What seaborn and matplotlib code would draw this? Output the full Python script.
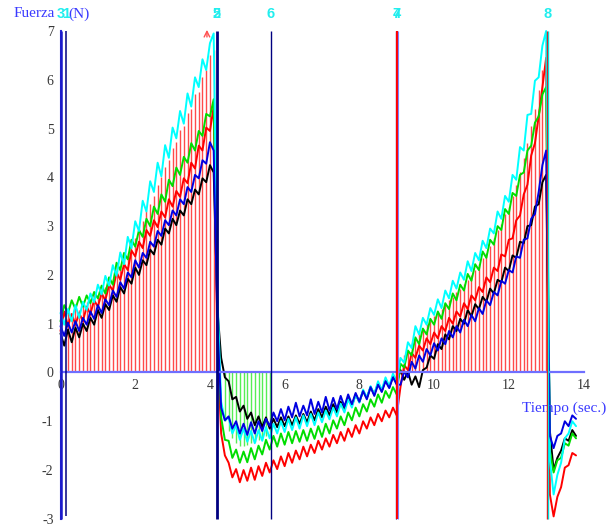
import numpy as np
import pandas as pd
import matplotlib
matplotlib.use("Agg")
import matplotlib.pyplot as plt
import seaborn as sns

# ---------------- data ----------------
t = np.round(np.arange(0, 13.85, 0.1), 1)   # sampling times 0.0 .. 13.8 s

cyan_vals = (
    [1.22, 0.98, 1.30, 1.05, 1.38, 1.12, 1.45, 1.28, 1.62, 1.44, 1.80, 1.60, 1.98, 1.78,
     2.20, 1.98, 2.46, 2.22, 2.78, 2.55, 3.10, 2.90, 3.52, 3.30, 3.92, 3.70, 4.30, 4.02,
     4.66, 4.40, 5.02, 4.80, 5.36, 5.10, 5.72, 5.45, 6.05, 5.85, 6.42, 6.20, 6.75, 6.95]
    + [1.6]
    + [-0.60, -0.98, -0.92, -1.25, -1.08, -1.38, -1.15, -1.42, -1.20, -1.45, -1.18, -1.40,
       -1.12, -1.35, -1.05, -1.25, -1.00, -1.22, -0.95, -1.18, -0.92, -1.15, -0.88, -1.10,
       -0.85, -1.08, -0.82, -1.02, -0.78, -0.96, -0.72, -0.90, -0.64, -0.82, -0.55, -0.72,
       -0.45, -0.62, -0.35, -0.52, -0.28, -0.45, -0.18, -0.36, -0.10, -0.28, -0.02, -0.18]
    + [0.30, 0.20, 0.62, 0.50, 0.95, 0.78, 1.12, 0.98, 1.32, 1.18, 1.50, 1.32, 1.68, 1.52,
       1.88, 1.72, 2.05, 1.90, 2.28, 2.08, 2.45, 2.30, 2.70, 2.55, 2.95, 2.85, 3.30, 3.15,
       3.62, 3.50, 4.05, 3.95, 4.62, 4.55, 5.28, 5.30, 5.98, 6.05, 6.70, 7.00]
    + [-1.8, -2.5, -2.1, -1.85, -1.35, -1.25, -1.0, -1.1]
)

green_vals = (
    [1.05, 1.38, 1.22, 1.48, 1.30, 1.55, 1.35, 1.58, 1.42, 1.65, 1.52, 1.78, 1.62, 1.95,
     1.80, 2.25, 2.10, 2.45, 2.32, 2.72, 2.58, 2.92, 2.78, 3.15, 3.00, 3.40, 3.25, 3.65,
     3.50, 3.95, 3.82, 4.20, 4.05, 4.42, 4.30, 4.70, 4.55, 4.95, 4.85, 5.30, 5.25, 5.60]
    + [1.2]
    + [-0.92, -1.38, -1.40, -1.75, -1.58, -1.85, -1.62, -1.84, -1.55, -1.78, -1.50, -1.68,
       -1.38, -1.58, -1.30, -1.52, -1.25, -1.48, -1.22, -1.45, -1.20, -1.42, -1.18, -1.40,
       -1.15, -1.36, -1.10, -1.32, -1.05, -1.25, -0.98, -1.15, -0.90, -1.08, -0.82, -0.98,
       -0.72, -0.90, -0.65, -0.80, -0.55, -0.70, -0.45, -0.62, -0.38, -0.52, -0.30, -0.45]
    + [0.18, 0.10, 0.45, 0.35, 0.72, 0.58, 0.90, 0.78, 1.10, 0.98, 1.25, 1.10, 1.42, 1.30,
       1.62, 1.48, 1.80, 1.68, 2.02, 1.88, 2.22, 2.10, 2.48, 2.35, 2.72, 2.62, 3.00, 2.92,
       3.35, 3.25, 3.68, 3.62, 4.05, 4.10, 4.55, 4.65, 5.12, 5.25, 5.70, 5.85]
    + [-1.6, -2.05, -1.8, -1.75, -1.45, -1.5, -1.25, -1.35]
)

red_vals = (
    [0.85, 1.25, 0.95, 1.20, 0.98, 1.22, 1.05, 1.35, 1.20, 1.48, 1.35, 1.62, 1.48, 1.80,
     1.68, 2.05, 1.90, 2.22, 2.10, 2.50, 2.38, 2.68, 2.55, 2.92, 2.80, 3.12, 2.98, 3.30,
     3.18, 3.55, 3.40, 3.72, 3.60, 3.98, 3.88, 4.30, 4.18, 4.65, 4.55, 5.02, 4.95, 5.45]
    + [0.5]
    + [-1.25, -1.70, -1.85, -2.15, -1.98, -2.25, -2.00, -2.22, -1.95, -2.20, -1.92, -2.12,
       -1.85, -2.05, -1.80, -1.98, -1.72, -1.92, -1.65, -1.85, -1.60, -1.78, -1.52, -1.72,
       -1.48, -1.65, -1.40, -1.58, -1.35, -1.52, -1.28, -1.45, -1.22, -1.40, -1.15, -1.32,
       -1.08, -1.25, -1.00, -1.15, -0.92, -1.08, -0.85, -1.00, -0.78, -0.92, -0.72, -0.88]
    + [-0.30, 0.15, 0.05, 0.40, 0.30, 0.55, 0.45, 0.70, 0.58, 0.82, 0.70, 0.95, 0.85, 1.12,
       1.00, 1.25, 1.15, 1.42, 1.30, 1.58, 1.48, 1.75, 1.65, 1.95, 1.85, 2.15, 2.08, 2.42,
       2.38, 2.72, 2.75, 3.12, 3.22, 3.65, 3.85, 4.45, 4.70, 5.25, 5.85, 6.45]
    + [-2.5, -2.95, -2.55, -2.35, -1.95, -1.9, -1.65, -1.7]
)

blue_vals = (
    [0.95, 0.75, 1.02, 0.82, 1.05, 0.85, 1.12, 0.98, 1.25, 1.10, 1.38, 1.22, 1.50, 1.38,
     1.68, 1.55, 1.85, 1.72, 2.05, 1.95, 2.30, 2.15, 2.45, 2.35, 2.68, 2.58, 2.90, 2.80,
     3.12, 3.02, 3.32, 3.22, 3.55, 3.45, 3.80, 3.70, 4.05, 3.98, 4.35, 4.28, 4.72, 4.55]
    + [1.0]
    + [-0.72, -0.98, -0.90, -1.15, -1.00, -1.25, -1.05, -1.28, -1.02, -1.25, -1.00, -1.20,
       -0.95, -1.10, -0.82, -1.00, -0.75, -0.98, -0.70, -0.92, -0.62, -0.90, -0.68, -0.88,
       -0.55, -0.85, -0.60, -0.82, -0.50, -0.78, -0.52, -0.75, -0.48, -0.70, -0.45, -0.65,
       -0.42, -0.60, -0.38, -0.55, -0.30, -0.48, -0.25, -0.40, -0.18, -0.32, -0.10, -0.25]
    + [-0.25, 0.02, -0.10, 0.22, 0.08, 0.35, 0.22, 0.48, 0.35, 0.60, 0.45, 0.70, 0.58, 0.85,
       0.72, 0.95, 0.82, 1.08, 0.95, 1.18, 1.05, 1.32, 1.20, 1.48, 1.38, 1.65, 1.58, 1.88,
       1.82, 2.10, 2.05, 2.38, 2.35, 2.72, 2.75, 3.15, 3.25, 3.70, 4.25, 4.55]
    + [-1.3, -1.55, -1.3, -1.25, -1.0, -1.1, -0.88, -0.95]
)

black_vals = (
    [0.80, 0.55, 0.88, 0.62, 0.92, 0.72, 1.00, 0.85, 1.12, 0.98, 1.28, 1.12, 1.40, 1.28,
     1.58, 1.45, 1.75, 1.62, 1.92, 1.82, 2.15, 2.00, 2.30, 2.20, 2.52, 2.42, 2.72, 2.62,
     2.95, 2.85, 3.15, 3.02, 3.32, 3.22, 3.55, 3.45, 3.75, 3.65, 3.98, 3.90, 4.25, 4.10]
    + [1.3]
    + [0.30, -0.10, -0.18, -0.55, -0.50, -0.80, -0.68, -0.95, -0.82, -1.08, -0.90, -1.12,
       -0.92, -1.15, -0.95, -1.12, -0.92, -1.10, -0.90, -1.08, -0.88, -1.05, -0.85, -1.02,
       -0.80, -0.98, -0.75, -0.92, -0.70, -0.88, -0.65, -0.82, -0.60, -0.75, -0.52, -0.68,
       -0.45, -0.60, -0.38, -0.52, -0.30, -0.45, -0.22, -0.38, -0.15, -0.30, -0.08, -0.22]
    + [0.05, -0.15, 0.02, -0.25, -0.08, -0.30, 0.05, 0.10, 0.35, 0.28, 0.58, 0.48, 0.78, 0.68,
       0.95, 0.85, 1.10, 1.00, 1.28, 1.15, 1.40, 1.30, 1.55, 1.45, 1.72, 1.62, 1.90, 1.85,
       2.15, 2.08, 2.40, 2.35, 2.68, 2.65, 3.00, 3.02, 3.40, 3.45, 3.90, 4.05]
    + [-1.2, -2.0, -1.75, -1.6, -1.35, -1.4, -1.18, -1.3]
)

# red stems (left burst 0.2-4.1 s and right burst 9.2-13.0 s), green stems 4.4-5.6 s
red_stem_left_t = t[2:42]
red_stem_left_h = [1.30, 1.15, 1.35, 1.28, 1.40, 1.45, 1.50, 1.62, 1.58, 1.78, 1.75, 1.95,
                   1.92, 2.18, 2.15, 2.40, 2.45, 2.70, 2.75, 2.95, 3.10, 3.30, 3.45, 3.62,
                   3.85, 4.00, 4.22, 4.35, 4.60, 4.72, 4.98, 5.05, 5.32, 5.40, 5.70, 5.75,
                   6.05, 6.20, 6.50, 6.60]
red_stem_right_t = t[92:131]
red_stem_right_h = [0.35, 0.45, 0.60, 0.70, 0.82, 0.90, 1.00, 1.05, 1.15, 1.22, 1.30, 1.40,
                    1.48, 1.55, 1.65, 1.72, 1.82, 1.90, 2.00, 2.10, 2.22, 2.35, 2.45, 2.60,
                    2.75, 2.92, 3.05, 3.25, 3.40, 3.62, 3.85, 4.10, 4.40, 4.70, 5.05, 5.40,
                    5.80, 6.20, 6.60]
green_stem_t = t[44:57]
green_stem_h = [-1.0, -1.2, -1.35, -1.45, -1.5, -1.5, -1.48, -1.45, -1.42, -1.38, -1.35,
                -1.3, -1.25]

# marker lines and their labels
marker_x = [0.0, 0.147, 4.18, 4.18, 9.0, 5.63, 9.0, 13.03]
marker_labels = ["3", "1", "2", "5", "4", "6", "7", "8"]

series_order = ["negro", "rojo", "verde", "cian", "azul"]
series_colors = {"negro": "#000000", "rojo": "#ff0000", "verde": "#00dd00",
                 "cian": "#00ffff", "azul": "#0000e0"}

df = pd.concat([
    pd.DataFrame({"t": t, "F": black_vals, "serie": "negro"}),
    pd.DataFrame({"t": t, "F": red_vals, "serie": "rojo"}),
    pd.DataFrame({"t": t, "F": green_vals, "serie": "verde"}),
    pd.DataFrame({"t": t, "F": cyan_vals, "serie": "cian"}),
    pd.DataFrame({"t": t, "F": blue_vals, "serie": "azul"}),
], ignore_index=True)

# ---------------- figure ----------------
sns.set_style("white")
plt.rcParams["font.family"] = ["Liberation Serif", "DejaVu Serif"]
plt.rcParams["axes.unicode_minus"] = False

fig = plt.figure(figsize=(6.16, 5.25), dpi=100)
ax = fig.add_axes([0, 0, 1, 1])
ax.set_xlim(-1.62, 14.87)
ax.set_ylim(-3.126, 7.635)

# stems
ax.vlines(red_stem_left_t, 0, red_stem_left_h, color="#ff4a4a", lw=1.0, zorder=1)
ax.vlines(red_stem_right_t, 0, red_stem_right_h, color="#ff4a4a", lw=1.0, zorder=1)
ax.vlines(green_stem_t, 0, green_stem_h, color="#55ee55", lw=1.0, zorder=1)

# force curves
sns.lineplot(data=df, x="t", y="F", hue="serie", hue_order=series_order,
             palette=series_colors, estimator=None, sort=False, legend=False,
             lw=1.4, ax=ax, zorder=2)

# vertical marker lines
ax.vlines([0.0], -3, 7, color="#1a1acc", lw=1.8, zorder=4)
ax.vlines([0.147], -2.95, 7, color="#000080", lw=1.1, zorder=4)
ax.vlines([4.18], -3, 7, color="#000080", lw=2.0, zorder=4)
ax.vlines([5.63], -3, 7, color="#000080", lw=1.0, zorder=4)
ax.vlines([8.985], -3, 7, color="#000080", lw=0.9, zorder=4)
ax.vlines([9.005], -3, 7, color="#ff0000", lw=1.5, zorder=4)
ax.vlines([9.035], -3, 7, color="#8080ff", lw=0.8, zorder=4)
ax.vlines([13.015], -3, 7, color="#ff0000", lw=1.0, zorder=4)
ax.vlines([13.05], -3, 7, color="#00e0e0", lw=1.0, zorder=4)

# labels on top of marker lines
for xm, lab in zip(marker_x, marker_labels):
    ax.text(xm, 7.35, lab, color="#22eeee", fontsize=10.5, fontweight="bold",
            family=["Liberation Sans", "DejaVu Sans"], ha="center", va="center", zorder=5)

# small red arrow at the top of the first burst
ax.annotate("", xy=(3.92, 7.08), xytext=(3.92, 6.82),
            arrowprops=dict(arrowstyle="->", color="#ff5050", lw=1.0), zorder=5)

# axes through the origin
for s in ["top", "right"]:
    ax.spines[s].set_visible(False)
ax.spines["left"].set_position(("data", 0))
ax.spines["bottom"].set_position(("data", 0))
ax.spines["left"].set_bounds(-3, 7)
ax.spines["bottom"].set_bounds(0, 14)
ax.spines["left"].set_color("#2a2ad6")
ax.spines["bottom"].set_color("#6f6fff")
ax.spines["left"].set_linewidth(1.5)
ax.spines["bottom"].set_linewidth(1.6)
ax.spines["bottom"].set_zorder(3)

ax.set_xticks([0, 2, 4, 6, 8, 10, 12, 14])
ax.set_yticks([-3, -2, -1, 0, 1, 2, 3, 4, 5, 6, 7])
ax.tick_params(axis="both", direction="out", length=3.5, width=1.2, colors="#3535e0",
               labelcolor="#383838", labelsize=10, pad=1.5)
ax.set_xlabel("")
ax.set_ylabel("")

ax.text(-1.27, 7.35, "Fuerza", color="#3a3aff", fontsize=11, ha="left", va="center")
ax.text(0.2, 7.35, "(N)", color="#3a3aff", fontsize=11, ha="left", va="center")
ax.text(12.35, -0.73, "Tiempo (sec.)", color="#3a3aff", fontsize=11, ha="left", va="center")

fig.savefig("out.png", dpi=100)
